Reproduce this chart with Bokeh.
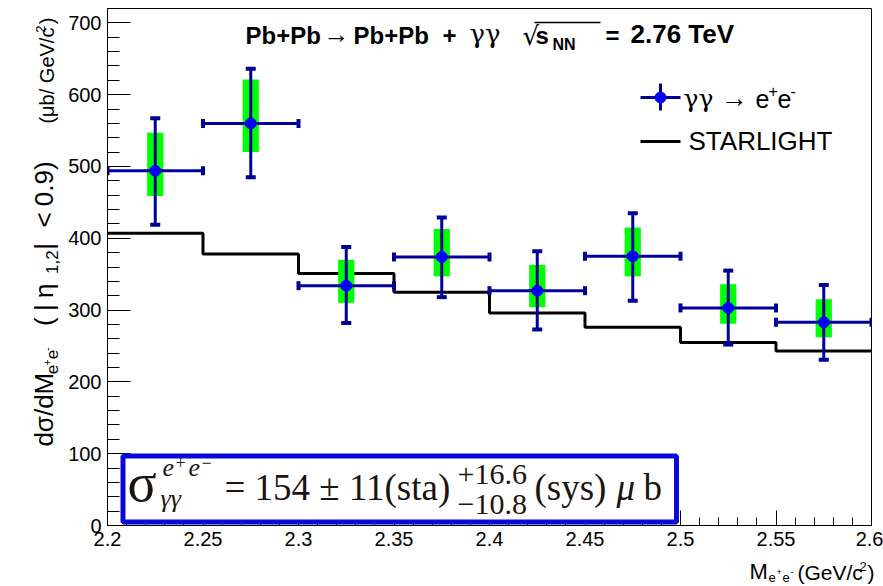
import numpy as np
from bokeh.plotting import figure
from bokeh.layouts import row, column
from bokeh.models import ColumnDataSource, Label, FixedTicker, BoxAnnotation, Range1d
from bokeh.embed import file_html
from bokeh.resources import INLINE

# ---------------- data ----------------
bin_centers = [2.225, 2.275, 2.325, 2.375, 2.425, 2.475, 2.525, 2.575]
bin_half_width = [0.025] * 8
xsec = [494, 560, 334, 374, 327, 375, 303, 283]
stat_hi = [567, 636, 388, 429, 382, 435, 355, 335]
stat_lo = [419, 485, 282, 318, 273, 313, 252, 231]
sys_hi = [547, 621, 370, 413, 363, 415, 336, 315]
sys_lo = [459, 520, 310, 347, 304, 347, 281, 262]

starlight_edges = [2.2, 2.25, 2.3, 2.35, 2.4, 2.45, 2.5, 2.55, 2.6]
starlight = [407, 378, 351, 325, 296, 276, 255, 243]

x_ticks = [2.2, 2.25, 2.3, 2.35, 2.4, 2.45, 2.5, 2.55, 2.6]
x_tick_labels = ["2.2", "2.25", "2.3", "2.35", "2.4", "2.45", "2.5", "2.55", "2.6"]
y_ticks = [0, 100, 200, 300, 400, 500, 600, 700]
y_tick_labels = ["0", "100", "200", "300", "400", "500", "600", "700"]

XMIN, XMAX, YMIN, YMAX = 2.2, 2.6, 0, 720

NAVY = "#000099"
BLUE = "#0000ff"
GREEN = "#00ff00"

# ---------------- layout geometry (page pixels) ----------------
YLAB_W = 64           # strip holding the y-axis title
MAIN_W, MAIN_H = 883 - YLAB_W, 557
XLAB_H = 586 - MAIN_H  # strip holding the x-axis title
FX0, FX1, FY0, FY1 = 107, 871, 8, 525   # frame of the main plot on the page


def _plain_fig(w, h, xr, yr):
    f = figure(width=w, height=h, x_range=xr, y_range=yr, output_backend="svg",
               toolbar_location=None, x_axis_type=None, y_axis_type=None,
               min_border_left=0, min_border_right=0, min_border_top=0, min_border_bottom=0)
    f.outline_line_color = None
    f.background_fill_color = "white"
    f.border_fill_color = "white"
    return f


# ---------------- main figure ----------------
p = figure(width=MAIN_W, height=MAIN_H, x_range=Range1d(XMIN, XMAX), y_range=Range1d(YMIN, YMAX),
           output_backend="svg", toolbar_location=None,
           min_border_left=FX0 - YLAB_W, min_border_right=YLAB_W + MAIN_W - FX1,
           min_border_top=FY0, min_border_bottom=MAIN_H - FY1)
p.background_fill_color = "white"
p.border_fill_color = "white"
p.outline_line_color = "black"
p.outline_line_width = 1
p.xgrid.visible = False
p.ygrid.visible = False

x_minor = [round(v, 3) for v in np.arange(2.2, 2.6001, 0.01) if round(v, 3) not in x_ticks]
y_minor = [v for v in range(0, 721, 20) if v not in y_ticks]
p.xaxis.ticker = FixedTicker(ticks=x_ticks, minor_ticks=x_minor)
p.yaxis.ticker = FixedTicker(ticks=y_ticks, minor_ticks=y_minor)
p.xaxis.major_label_overrides = dict(zip(x_ticks, x_tick_labels))
p.yaxis.major_label_overrides = dict(zip(y_ticks, y_tick_labels))

for ax, mj, mn in ((p.xaxis, 15, 8), (p.yaxis, 23, 12)):
    ax.major_tick_in = mj
    ax.major_tick_out = 0
    ax.minor_tick_in = mn
    ax.minor_tick_out = 0
    ax.axis_line_color = "black"
    ax.major_tick_line_color = "black"
    ax.minor_tick_line_color = "black"
    ax.major_label_text_font = "Liberation Sans"
    ax.major_label_text_font_size = "20px"
    ax.major_label_text_color = "black"
    ax.major_label_standoff = 6
    ax.axis_label = None

# ---------------- STARLIGHT histogram ----------------
p.step(x=starlight_edges, y=starlight + [starlight[-1]], mode="after",
       line_color="black", line_width=3)

# ---------------- data points ----------------
src = ColumnDataSource(dict(
    x=bin_centers,
    y=xsec,
    xl=[c - w for c, w in zip(bin_centers, bin_half_width)],
    xr=[c + w for c, w in zip(bin_centers, bin_half_width)],
    shi=stat_hi, slo=stat_lo, yhi=sys_hi, ylo=sys_lo,
))
p.vbar(x="x", width=0.0085, top="yhi", bottom="ylo", source=src,
       fill_color=GREEN, line_color=None)
p.segment(x0="x", y0="slo", x1="x", y1="shi", source=src, line_color=NAVY, line_width=3)
p.segment(x0="xl", y0="y", x1="xr", y1="y", source=src, line_color=NAVY, line_width=3)
p.scatter(x="x", y="shi", source=src, marker="dash", size=10, line_color=NAVY, line_width=4)
p.scatter(x="x", y="slo", source=src, marker="dash", size=10, line_color=NAVY, line_width=4)
p.scatter(x="xl", y="y", source=src, marker="dash", angle=np.pi / 2, size=9, line_color=NAVY, line_width=4)
p.scatter(x="xr", y="y", source=src, marker="dash", angle=np.pi / 2, size=9, line_color=NAVY, line_width=4)
p.scatter(x="x", y="y", source=src, marker="circle", size=11, fill_color=BLUE, line_color=BLUE)


# ---------------- helpers: reference page pixels -> coordinates ----------------
def main_xy(px, py):
    return (XMIN + (px - FX0) * (XMAX - XMIN) / (FX1 - FX0),
            YMIN + (FY1 - py) * (YMAX - YMIN) / (FY1 - FY0))


def page_xy(px, py):
    return px, py


def txt(fig, conv, s, px, py, size, style="normal", font="Liberation Sans",
        color="black", angle=0.0):
    """(px, py) = start of the text on its baseline, in page pixels."""
    if angle == 0.0:
        cx, cy = px, py - 0.35 * size
    else:
        cx, cy = px - 0.35 * size, py
    x, y = conv(cx, cy)
    fig.add_layout(Label(x=x, y=y, text=s, text_font=font,
                         text_font_size=f"{size}px", text_font_style=style,
                         text_color=color, angle=angle, text_align="left",
                         text_baseline="middle"))


def seg(fig, conv, a, b, color, width):
    (x0, y0), (x1, y1) = conv(*a), conv(*b)
    fig.segment(x0=[x0], y0=[y0], x1=[x1], y1=[y1], line_color=color, line_width=width)


M = (p, main_xy)

# ---------------- title ----------------
txt(*M, "Pb+Pb", 245, 43, 24, "bold")
txt(*M, "\u2192", 323, 43, 26)
txt(*M, "Pb+Pb", 353, 43, 24, "bold")
txt(*M, "+", 442, 43, 24, "bold")
txt(*M, "\u03b3\u03b3", 469, 43, 26, font="DejaVu Serif")
txt(*M, "\u221a", 522, 45, 26, font="DejaVu Sans")
txt(*M, "s", 535, 43, 24, "bold")
txt(*M, "NN", 552, 50, 16, "bold")
txt(*M, "=", 605, 43, 24, "bold")
txt(*M, "2.76 TeV", 630, 43, 26, "bold")
seg(*M, (534, 22), (600, 22), "black", 1.3)

# ---------------- legend ----------------
seg(*M, (640, 97), (680, 97), NAVY, 3)
seg(*M, (660, 83), (660, 110), NAVY, 3)
lx, ly = main_xy(660, 97)
p.scatter(x=[lx], y=[ly], marker="circle", size=11, fill_color=BLUE, line_color=BLUE)
txt(*M, "\u03b3\u03b3", 683, 107, 25, font="DejaVu Serif")
txt(*M, "\u2192", 720, 107, 27)
txt(*M, "e", 755, 107, 25)
txt(*M, "+", 768, 96, 16)
txt(*M, "e", 777, 107, 25)
txt(*M, "-", 790, 96, 16)
seg(*M, (640, 141), (680, 141), "black", 3)
txt(*M, "STARLIGHT", 688, 150, 26)

# ---------------- cross-section box ----------------
p.add_layout(BoxAnnotation(left=main_xy(122.5, 0)[0], right=main_xy(676, 0)[0],
                           top=main_xy(0, 455.5)[1], bottom=main_xy(0, 521.5)[1],
                           fill_color="white", fill_alpha=1.0, line_color="#0a0ad8",
                           line_width=5, line_alpha=1.0))
FC = "#1c1410"
SER = "Liberation Serif"
txt(*M, "\u03c3", 127, 501, 54, font=SER, color=FC)
txt(*M, "e", 162, 476, 26, "italic", SER, FC)
txt(*M, "+", 175, 468, 18, font=SER, color=FC)
txt(*M, "e", 188, 476, 26, "italic", SER, FC)
txt(*M, "\u2212", 201, 468, 18, font=SER, color=FC)
txt(*M, "\u03b3\u03b3", 160, 507, 26, "italic", SER, FC)
txt(*M, "= 154 \u00b1 11(sta)", 224, 500, 37, font=SER, color=FC)
txt(*M, "+16.6", 457, 484, 30, font=SER, color=FC)
txt(*M, "\u221210.8", 457, 514, 30, font=SER, color=FC)
txt(*M, "(sys)", 534, 500, 37, font=SER, color=FC)
txt(*M, "\u03bc", 616, 500, 37, "italic", SER, FC)
txt(*M, "b", 643, 500, 37, font=SER, color=FC)

# ---------------- y-axis title strip ----------------
ylab = _plain_fig(YLAB_W, MAIN_H, Range1d(0, YLAB_W), Range1d(MAIN_H, 0))
Y = (ylab, page_xy)
ROT = np.pi / 2
txt(*Y, "d\u03c3/dM", 53, 472, 26, angle=ROT)
txt(*Y, "e", 57, 394, 17, angle=ROT)
txt(*Y, "+", 50, 385, 11, angle=ROT)
txt(*Y, "e", 57, 378, 17, angle=ROT)
txt(*Y, "-", 50, 369, 11, angle=ROT)
txt(*Y, "(", 53, 342, 26, angle=ROT)
txt(*Y, "|", 53, 326, 26, angle=ROT)
txt(*Y, "\u03b7", 53, 312, 26, angle=ROT)
txt(*Y, "1,2", 57, 286, 17, angle=ROT)
txt(*Y, "|", 53, 260, 26, angle=ROT)
txt(*Y, "<", 53, 236, 26, angle=ROT)
txt(*Y, "0.9)", 53, 213, 26, angle=ROT)
txt(*Y, "(\u03bcb/ GeV/c", 53, 124, 20, angle=ROT)
txt(*Y, "2", 45, 26, 13, angle=ROT)
txt(*Y, ")", 53, 17, 20, angle=ROT)

# ---------------- x-axis title strip ----------------
xlab = _plain_fig(YLAB_W + MAIN_W, XLAB_H, Range1d(0, YLAB_W + MAIN_W),
                  Range1d(MAIN_H + XLAB_H, MAIN_H))
X = (xlab, page_xy)
txt(*X, "M", 749, 579, 22)
txt(*X, "e", 768, 582, 13)
txt(*X, "+", 776, 575, 9)
txt(*X, "e", 782, 582, 13)
txt(*X, "-", 790, 575, 9)
txt(*X, "(GeV/c", 797, 579, 21)
txt(*X, "2", 859, 571, 13)
txt(*X, ")", 867, 579, 21)

layout = column(row(ylab, p), xlab)
open("out.html", "w").write(file_html(layout, INLINE))
